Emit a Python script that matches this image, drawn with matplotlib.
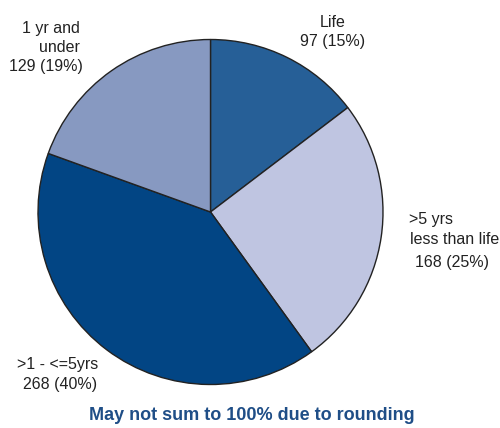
import matplotlib
matplotlib.use("Agg")
import matplotlib.pyplot as plt

categories = ["Life", ">5 yrs less than life", ">1 - <=5yrs", "1 yr and under"]
counts = [97, 168, 268, 129]
percents = [15, 25, 40, 19]
colors = ["#265f97", "#bfc5e1", "#024584", "#8799c1"]
footer = "May not sum to 100% due to rounding"

W, H = 500, 428
fig = plt.figure(figsize=(W / 100, H / 100), dpi=100)
ax = fig.add_axes([0, 0, 1, 1])
cx, cy, r = 210.5, H - 212, 172.5
ax.pie(counts, colors=colors, startangle=90, counterclock=False,
       center=(cx, cy), radius=r,
       wedgeprops=dict(edgecolor="#222222", linewidth=1.0))
ax.set_xlim(0, W)
ax.set_ylim(0, H)
ax.set_aspect("equal")
ax.axis("off")

fs = 11.5
fam = ["Liberation Sans", "DejaVu Sans"]
tc = "#222222"

def t(x, y, s, ha="left"):
    ax.text(x, H - y, s, ha=ha, va="center", fontsize=fs, family=fam, color=tc)

t(333, 22, "Life", "center")
t(333, 41, f"{counts[0]} ({percents[0]}%)", "center")
t(80, 28, "1 yr and", "right")
t(80, 47, "under", "right")
t(83, 66, f"{counts[3]} ({percents[3]}%)", "right")
t(409, 219, ">5 yrs")
t(410, 239, "less than life")
t(415, 262, f"{counts[1]} ({percents[1]}%)")
t(17, 364, ">1 - <=5yrs")
t(23, 384, f"{counts[2]} ({percents[2]}%)")
ax.text(252, H - 416, footer, ha="center", va="center", fontsize=13, fontweight="bold",
        family=["Liberation Sans Narrow", "Liberation Sans", "DejaVu Sans"], color="#1f4e87")

fig.savefig("out.png", dpi=100)
